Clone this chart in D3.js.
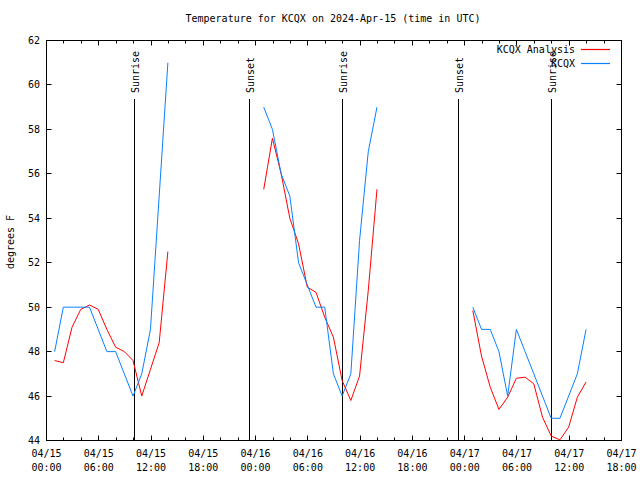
<!DOCTYPE html>
<html>
<head>
<meta charset="utf-8">
<script src="https://cdn.jsdelivr.net/npm/d3@7"></script>
<style>
  html, body { margin: 0; padding: 0; background: #fff; }
  svg text { font-family: "DejaVu Sans Mono", "Liberation Mono", monospace; font-size: 10px; fill: #000; }
</style>
</head>
<body>
<svg id="chart" width="640" height="480"></svg>
<script>
// ---- data ----
const obsTimes = [
  "2024-04-15T00:56Z","2024-04-15T01:56Z","2024-04-15T02:56Z","2024-04-15T03:56Z","2024-04-15T04:56Z",
  "2024-04-15T05:56Z","2024-04-15T06:56Z","2024-04-15T07:56Z","2024-04-15T08:56Z","2024-04-15T09:56Z",
  "2024-04-15T10:56Z","2024-04-15T11:56Z","2024-04-15T12:56Z","2024-04-15T13:56Z",
  "2024-04-16T00:56Z","2024-04-16T01:56Z","2024-04-16T02:56Z","2024-04-16T03:56Z","2024-04-16T04:56Z",
  "2024-04-16T05:56Z","2024-04-16T06:56Z","2024-04-16T07:56Z","2024-04-16T08:56Z","2024-04-16T09:56Z",
  "2024-04-16T10:56Z","2024-04-16T11:56Z","2024-04-16T12:56Z","2024-04-16T13:56Z",
  "2024-04-17T00:56Z","2024-04-17T01:56Z","2024-04-17T02:56Z","2024-04-17T03:56Z","2024-04-17T04:56Z",
  "2024-04-17T05:56Z","2024-04-17T06:56Z","2024-04-17T07:56Z","2024-04-17T08:56Z","2024-04-17T09:56Z",
  "2024-04-17T10:56Z","2024-04-17T11:56Z","2024-04-17T12:56Z","2024-04-17T13:56Z"
];
const kcqxTemps = [
  48, 50, 50, 50, 50, 49, 48, 48, 47, 46, 47, 49, 55, 61,
  59, 58, 56, 55, 52, 51, 50, 50, 47, 46, 47, 53, 57, 59,
  50, 49, 49, 48, 46, 49, 48, 47, 46, 45, 45, 46, 47, 49
];
const analysisTemps = [
  47.6, 47.5, 49.1, 49.9, 50.1, 49.9, 49.0, 48.2, 48.0, 47.6, 46.0, 47.2, 48.4, 52.5,
  55.3, 57.6, 56.0, 54.0, 52.85, 50.9, 50.67, 49.55, 48.65, 46.7, 45.8, 46.9, 50.75, 55.3,
  49.85, 47.8, 46.4, 45.4, 45.95, 46.8, 46.85, 46.55, 45.05, 44.2, 44.03, 44.6, 45.95, 46.63
];
const sunEvents = [
  { time: "2024-04-15T10:05Z", label: "Sunrise" },
  { time: "2024-04-15T23:20Z", label: "Sunset" },
  { time: "2024-04-16T10:01Z", label: "Sunrise" },
  { time: "2024-04-16T23:18Z", label: "Sunset" },
  { time: "2024-04-17T09:59Z", label: "Sunrise" }
];
const yTicks = [44, 46, 48, 50, 52, 54, 56, 58, 60, 62];
const titleText = "Temperature for KCQX on 2024-Apr-15 (time in UTC)";
const yLabel = "degrees F";
const seriesNames = ["KCQX Analysis", "KCQX"];
const seriesColors = ["#ff0000", "#0a80ff"];

// ---- layout ----
const L = 46.5, R = 621.5, T = 40.5, B = 440.5;
const svg = d3.select("#chart");
const parse = d3.isoParse;
const x = d3.scaleUtc()
  .domain([parse("2024-04-15T00:00Z"), parse("2024-04-17T18:00Z")])
  .range([L, R]);
const y = d3.scaleLinear().domain([44, 62]).range([B, T]);

// title
svg.append("text").attr("x", 333).attr("y", 22).attr("text-anchor", "middle").text(titleText);

// y axis label
svg.append("text").attr("transform", "translate(14,242) rotate(-90)")
  .attr("text-anchor", "middle").text(yLabel);

// ticks
const majorX = d3.utcHour.every(6).range(x.domain()[0], d3.utcHour.offset(x.domain()[1], 1));
const minorX = d3.utcHour.every(2).range(x.domain()[0], d3.utcHour.offset(x.domain()[1], 1));
const g = svg.append("g").attr("stroke", "#000").attr("stroke-width", 1);
minorX.forEach(d => {
  const px = Math.round(x(d) - 0.5) + 0.5;
  const isMajor = d.getUTCHours() % 6 === 0;
  const len = isMajor ? 5 : 3;
  g.append("line").attr("x1", px).attr("x2", px).attr("y1", B).attr("y2", B - len);
  g.append("line").attr("x1", px).attr("x2", px).attr("y1", T).attr("y2", T + len);
});
yTicks.forEach(v => {
  const py = Math.round(y(v) - 0.5) + 0.5;
  g.append("line").attr("x1", L).attr("x2", L + 5).attr("y1", py).attr("y2", py);
  g.append("line").attr("x1", R).attr("x2", R - 5).attr("y1", py).attr("y2", py);
  svg.append("text").attr("x", 40).attr("y", py).attr("dy", "0.35em")
    .attr("text-anchor", "end").text(v);
});
const fmtDate = d3.utcFormat("%m/%d"), fmtTime = d3.utcFormat("%H:%M");
majorX.forEach(d => {
  const t = svg.append("text").attr("x", x(d)).attr("y", 457).attr("text-anchor", "middle");
  t.append("tspan").attr("x", x(d)).text(fmtDate(d));
  t.append("tspan").attr("x", x(d)).attr("dy", 14).text(fmtTime(d));
});

// sunrise/sunset
sunEvents.forEach(e => {
  const px = Math.round(x(parse(e.time)) - 0.5) + 0.5;
  svg.append("line").attr("x1", px).attr("x2", px).attr("y1", 99).attr("y2", B)
    .attr("stroke", "#000").attr("stroke-width", 1);
  svg.append("text").attr("transform", `translate(${px + 1},93) rotate(-90)`)
    .attr("text-anchor", "start").attr("dy", "0.35em").text(e.label);
});

// lines
const rows = obsTimes.map((t, i) => ({ t: parse(t), k: kcqxTemps[i], a: analysisTemps[i] }));
function segments(data) {
  const segs = []; let cur = [];
  data.forEach((d, i) => {
    if (i > 0 && (d.t - data[i - 1].t) > 3 * 3600e3) { segs.push(cur); cur = []; }
    cur.push(d);
  });
  if (cur.length) segs.push(cur);
  return segs;
}
const segs = segments(rows);
const lineA = d3.line().x(d => x(d.t)).y(d => y(d.a));
const lineK = d3.line().x(d => x(d.t)).y(d => y(d.k));
segs.forEach(s => {
  svg.append("path").attr("d", lineA(s)).attr("fill", "none").attr("stroke", seriesColors[0]).attr("stroke-width", 1);
  svg.append("path").attr("d", lineK(s)).attr("fill", "none").attr("stroke", seriesColors[1]).attr("stroke-width", 1);
});

// border
svg.append("rect").attr("x", L).attr("y", T).attr("width", R - L).attr("height", B - T)
  .attr("fill", "none").attr("stroke", "#000").attr("stroke-width", 1);

// legend
seriesNames.forEach((n, i) => {
  const ly = 49.5 + i * 14;
  svg.append("text").attr("x", 575).attr("y", ly).attr("dy", "0.35em").attr("text-anchor", "end").text(n);
  svg.append("path").attr("d", `M581,${ly}H610`)
    .style("stroke", seriesColors[i]).style("stroke-width", "1.2px").style("fill", "none");
});
</script>
</body>
</html>
